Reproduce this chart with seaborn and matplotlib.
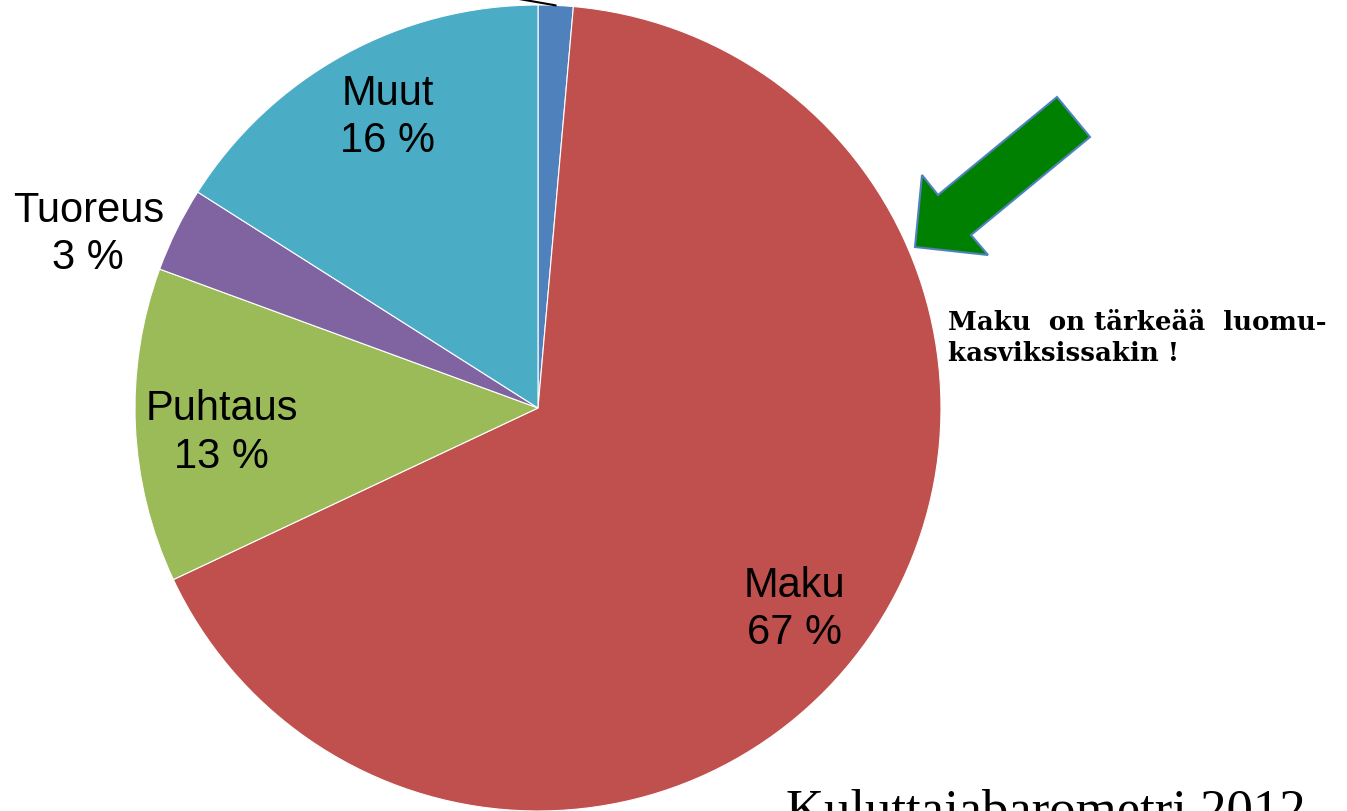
import numpy as np
import matplotlib.pyplot as plt
import seaborn as sns
from matplotlib.patches import Polygon

sns.set_theme(style="white")
plt.rcParams['font.family'] = ['Liberation Sans', 'DejaVu Sans']

# slices clockwise from 12 o'clock
labels = ["Muu", "Maku", "Puhtaus", "Tuoreus", "Muut"]
values = [1.4, 66.6, 12.6, 3.4, 16.0]
colors = ["#4F81BD", "#C0504D", "#9BBB59", "#8064A2", "#4BACC6"]
# (distance as share of radius, angle nudge in degrees) for each label
label_pos = [None, (0.81, -3.2), (0.787, 2.0), (1.196, 5.2), (0.812, -1.4)]

W, H = 1347, 811
fig = plt.figure(figsize=(W / 100, H / 100), dpi=100)
ax = fig.add_axes([0, 0, 1, 1])

cx, cy, r = 538, 403, 403
wedges, _ = ax.pie(values, colors=colors, startangle=90, counterclock=False,
                   center=(cx, cy), radius=r, frame=True,
                   wedgeprops=dict(edgecolor="white", linewidth=0.8))

for w, lab, v, pos in zip(wedges, labels, values, label_pos):
    mid = (w.theta1 + w.theta2) / 2
    if pos is None:
        # label of the tiny slice lies above the frame, only its leader shows
        a = np.deg2rad(mid)
        ex, ey = cx + r * np.cos(a), cy + r * np.sin(a)
        ax.plot([ex, ex - 80], [ey, ey + 14], color="black", lw=1.5)
        continue
    d, nudge = pos
    a = np.deg2rad(mid + nudge)
    tx, ty = cx + d * r * np.cos(a), cy + d * r * np.sin(a)
    ax.text(tx, ty, f"{lab}\n{round(v)} %", ha="center", va="center",
            fontsize=30, linespacing=1.24, color="black")

# green arrow pointing at the Maku slice
arrow_px = [(915, 247), (922, 175), (938, 195), (1057, 97), (1090, 137),
            (971, 235), (988, 255)]
arrow = Polygon([(x, H - y) for x, y in arrow_px], closed=True,
                facecolor="#008000", edgecolor="#4F81BD", linewidth=1.5)
ax.add_patch(arrow)

ax.text(948, H - 338, "Maku  on tärkeää  luomu-\nkasviksissakin !",
        ha="left", va="center", fontsize=18.7, fontweight="bold",
        family=["DejaVu Serif"], linespacing=1.33, color="black")

ax.text(786, H - 826, "Kuluttajabarometri 2012", ha="left", va="baseline",
        fontsize=38, family=["Liberation Serif"], color="black")

ax.set_xlim(0, W)
ax.set_ylim(0, H)
ax.axis("off")

fig.savefig("out.png", dpi=100)
